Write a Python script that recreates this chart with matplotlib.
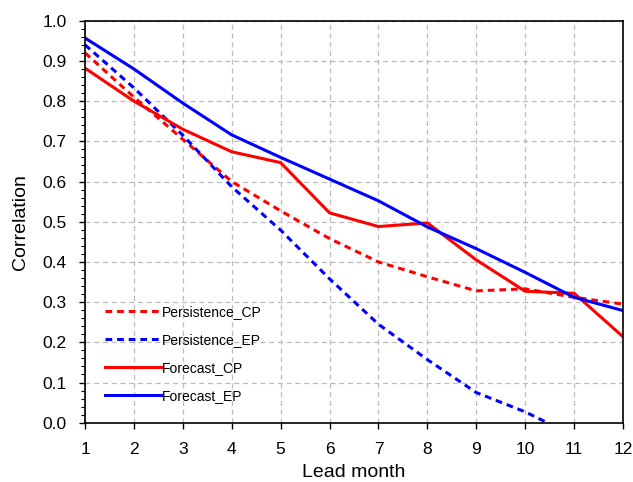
import numpy as np
import matplotlib
matplotlib.use("Agg")
import matplotlib.pyplot as plt
from matplotlib.ticker import MultipleLocator

plt.rcParams['font.family'] = ['Liberation Sans', 'DejaVu Sans']

# dati
months = np.arange(1, 13)
persistence_cp = [0.92, 0.81, 0.705, 0.600, 0.527, 0.458, 0.400, 0.363, 0.328, 0.333, 0.312, 0.295]
persistence_ep = [0.940, 0.833, 0.715, 0.587, 0.479, 0.358, 0.245, 0.157, 0.075, 0.027, -0.033, -0.08]
forecast_cp = [0.882, 0.800, 0.730, 0.674, 0.647, 0.522, 0.488, 0.497, 0.405, 0.327, 0.322, 0.214]
forecast_ep = [0.957, 0.880, 0.795, 0.716, 0.660, 0.606, 0.552, 0.487, 0.433, 0.374, 0.312, 0.279]

fig = plt.figure(figsize=(6.33, 4.82), dpi=100)
ax = fig.add_axes([0.1343, 0.123, 0.8499, 0.834])

lw = 2.2
ax.plot(months, persistence_cp, color="red", lw=lw, dashes=(2.2, 1.6), label="Persistence_CP")
ax.plot(months, persistence_ep, color="blue", lw=lw, dashes=(2.2, 1.6), label="Persistence_EP")
ax.plot(months, forecast_cp, color="red", lw=lw, label="Forecast_CP")
ax.plot(months, forecast_ep, color="blue", lw=lw, label="Forecast_EP")

ax.set_xlim(1, 12)
ax.set_ylim(0, 1.0)
ax.set_xticks(months)
ax.yaxis.set_major_locator(MultipleLocator(0.1))
ax.yaxis.set_minor_locator(MultipleLocator(0.02))
ax.yaxis.set_major_formatter(plt.FormatStrFormatter("%.1f"))
ax.tick_params(axis="both", which="major", direction="out", length=4, width=1, labelsize=12.5)
ax.tick_params(axis="x", which="major", pad=10)
ax.tick_params(axis="y", which="major", pad=9)
ax.tick_params(axis="y", which="minor", direction="out", length=3, width=0.8)
ax.tick_params(top=False, right=False)

ax.grid(True, which="major", color="#bbbbbb", linestyle=(0, (4, 3)), linewidth=0.9)
for s in ax.spines.values():
    s.set_linewidth(1.2)

ax.set_xlabel("Lead month", fontsize=14, labelpad=5)
ax.set_ylabel("Correlation", fontsize=14, labelpad=10)

ax.legend(loc="lower left", bbox_to_anchor=(0.013, 0.018), frameon=False, fontsize=10,
          handlelength=4.1, handletextpad=0.0, labelspacing=1.0, borderaxespad=0.5)

fig.savefig("out.png", dpi=100)
